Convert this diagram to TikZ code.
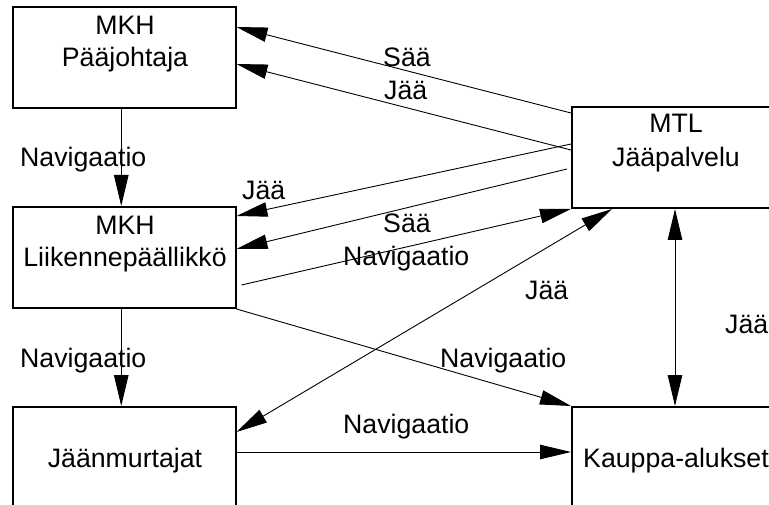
\documentclass[tikz,border=0pt]{standalone}
\usepackage{fontspec}
\setmainfont{Liberation Sans}
\usetikzlibrary{arrows.meta,calc}
\begin{document}
\begin{tikzpicture}[x=1pt,y=-1pt,
  box/.style={draw,line width=2pt,rectangle,minimum width=222.5pt,minimum height=101pt,inner sep=0pt},
  txt/.style={inner sep=0pt,anchor=base,font=\fontsize{26.7}{32}\selectfont},
  lbl/.style={inner sep=0pt,anchor=base west,font=\fontsize{26.7}{32}\selectfont},
  conn/.style={line width=0.9pt,-{Triangle[length=31pt,width=14.5pt]}},
  dconn/.style={line width=0.9pt,{Triangle[length=31pt,width=14.5pt]}-{Triangle[length=31pt,width=14.5pt]}}]
\useasboundingbox (0,0) rectangle (769,505);
\clip (0,0) rectangle (769,505);
% boxes
\node[box] (b1) at (124.25,57.5) {};
\node[box] (b2) at (124.25,257.5) {};
\node[box] (b3) at (124.25,457.5) {};
\node[box,minimum width=216pt] (b4) at (680,157.5) {};
\node[box,minimum width=216pt] (b5) at (680,457.5) {};
% box texts
\node[txt] (t1a) at (125,35) {MKH};
\node[txt] (t1b) at (125,67) {Pääjohtaja};
\node[txt] (t2a) at (125,235) {MKH};
\node[txt] (t2b) at (125,267) {Liikennepäällikkö};
\node[txt] (t3) at (125,467) {Jäänmurtajat};
\node[txt] (t4a) at (676,133) {MTL};
\node[txt] (t4b) at (676,167) {Jääpalvelu};
\node[txt] (t5) at (676,467) {Kauppa-alukset};
% connectors
\draw[conn] ([xshift=-3pt]b1.south) -- ([xshift=-3pt]b2.north);
\draw[conn] ([xshift=-3pt]b2.south) -- ([xshift=-3pt]b3.north);
\draw[conn] ([yshift=-7pt]b4.north west) -- ([yshift=-21pt]b1.north east);
\draw[conn] ([yshift=-44pt]b4.north west) -- ([yshift=-58pt]b1.north east);
\draw[conn] ([yshift=-38pt]b4.north west) -- ([yshift=-10pt]b2.north east);
\draw[conn] ([xshift=-4pt,yshift=-63pt]b4.north west) -- ([yshift=-43pt]b2.north east);
\draw[conn] ([xshift=5pt,yshift=-79pt]b2.north east) -- (b4.south west);
\draw[dconn] ([yshift=-26pt]b3.north east) -- ([xshift=41pt]b4.south west);
\draw[conn] (b2.south east) -- (b5.north west);
\draw[conn] ([yshift=-46pt]b3.north east) -- ([yshift=-46pt]b5.north west);
\draw[dconn] ([xshift=104pt]b4.south west) -- ([xshift=104pt]b5.north west);
% labels
\node[lbl] (l1) at (383,67) {Sää};
\node[lbl] (l2) at (384,100) {Jää};
\node[lbl] (l3) at (20,167) {Navigaatio};
\node[lbl] (l4) at (242,200) {Jää};
\node[lbl] (l5) at (383,233) {Sää};
\node[lbl] (l6) at (343,266) {Navigaatio};
\node[lbl] (l7) at (525,300) {Jää};
\node[lbl] (l8) at (20,367) {Navigaatio};
\node[lbl] (l9) at (440,367) {Navigaatio};
\node[lbl] (l10) at (343,433) {Navigaatio};
\node[lbl] (l11) at (725,334) {Jää};
\end{tikzpicture}
\end{document}
